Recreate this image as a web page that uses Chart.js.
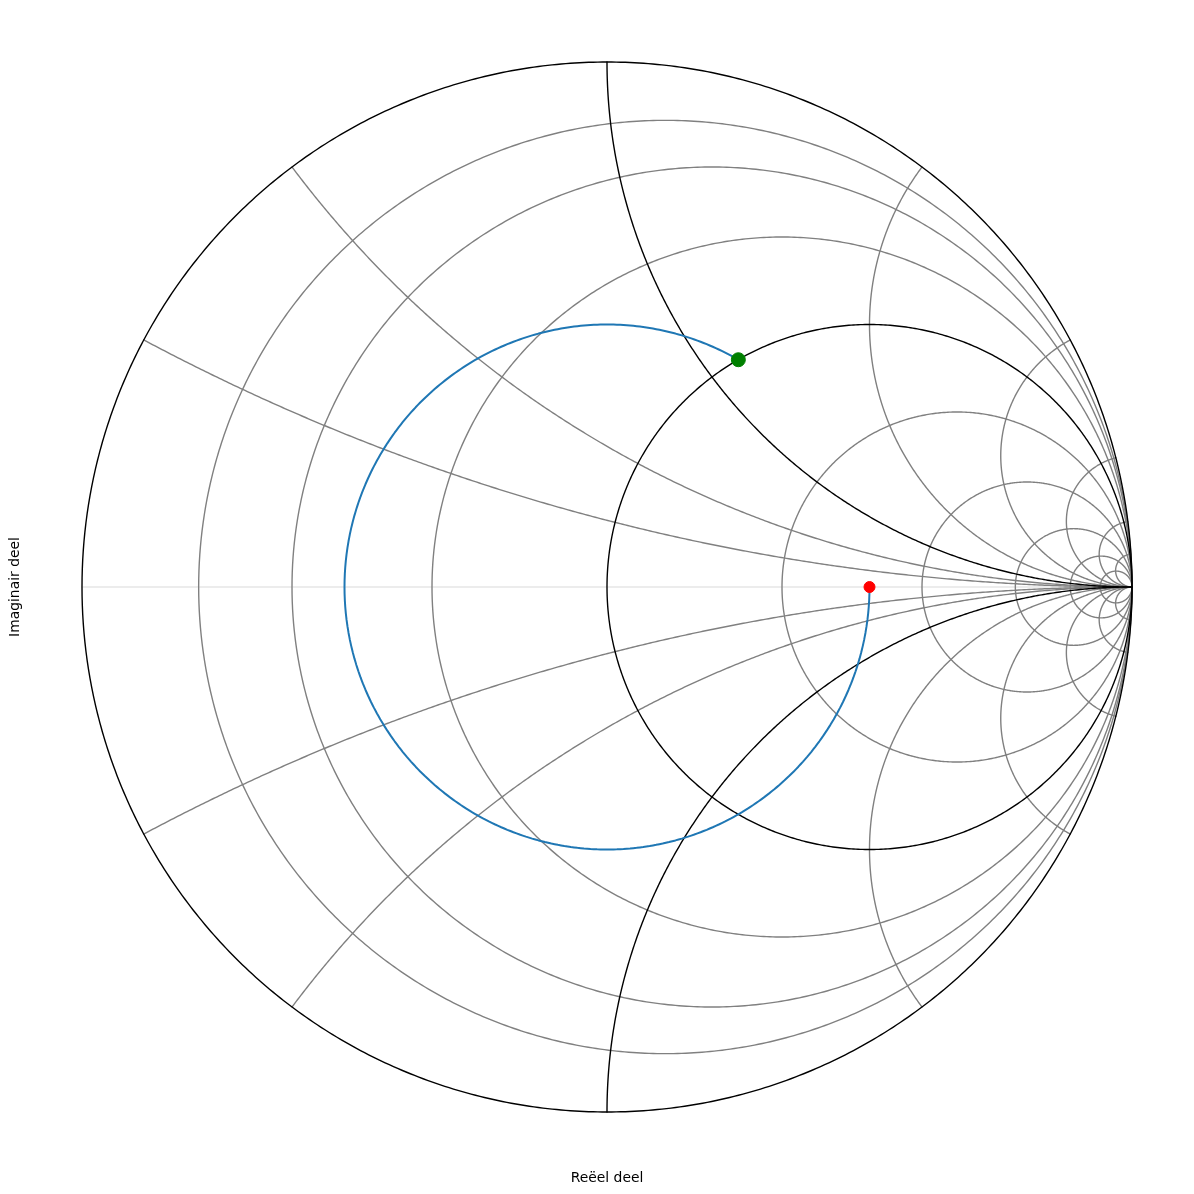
<!DOCTYPE html>
<html>
<head>
<meta charset="utf-8">
<script src="https://cdn.jsdelivr.net/npm/chart.js@4/dist/chart.umd.min.js"></script>
<style>
  html, body { margin: 0; padding: 0; background: #fff; }
  #wrap { width: 1194px; height: 1194px; }
</style>
</head>
<body>
<div id="wrap"><canvas id="smith" width="1194" height="1194"></canvas></div>
<script>
// rasterwaarden (genormaliseerd)
const rLight = [0.125, 0.25, 0.5, 2, 4, 8, 16, 32];
const xLight = [0.25, 0.5, 2, 4, 8, 16, 32, -0.25, -0.5, -2, -4, -8, -16, -32];
const rHeavy = [0, 1];
const xHeavy = [1, -1];

// belasting en lijnlengte
const zLoad = [3, 0];        // genormaliseerde belastingsimpedantie (re, im)
const lineLength = 0.4167;   // lengte van de lijn in golflengtes
const lengthStep = 0.002;

const axisTitles = ['Reëel deel', 'Imaginair deel'];

// z -> gamma
function gammaOf(re, im) {
    const d = (re + 1) * (re + 1) + im * im;
    return [(re * re + im * im - 1) / d, 2 * im / d];
}

function resistanceCircle(r) {
    const c = r / (1 + r), rad = 1 / (1 + r);
    const pts = [];
    for (let i = 0; i <= 360; i++) {
        const a = i * Math.PI / 180;
        pts.push({ x: c + rad * Math.cos(a), y: rad * Math.sin(a) });
    }
    return pts;
}

// boog van de reactantiecirkel binnen de eenheidscirkel
function reactanceArc(x) {
    const ax = Math.abs(x), s = Math.sign(x);
    const rad = 1 / ax;
    const edge = gammaOf(0, ax);
    const a0 = Math.atan2(edge[1] - rad, edge[0] - 1);
    const a0p = a0 < 0 ? a0 + 2 * Math.PI : a0;
    const a1 = 1.5 * Math.PI;
    const pts = [];
    const n = 200;
    for (let i = 0; i <= n; i++) {
        const a = a0p + (a1 - a0p) * i / n;
        pts.push({ x: 1 + rad * Math.cos(a), y: s * (rad + rad * Math.sin(a)) });
    }
    return pts;
}

// tension > 0 zodat chart.js geen "fast path" gebruikt (geeft rare tikjes bij verticale stukken)
function lineSet(data, color, width) {
    return { data: data, showLine: true, pointRadius: 0, borderColor: color,
             borderWidth: width, fill: false, clip: false, tension: 0.0001,
             borderCapStyle: 'round', borderJoinStyle: 'round' };
}

// spoor langs de lijn
const gL = gammaOf(zLoad[0], zLoad[1]);
function rotated(d) {
    const ph = -4 * Math.PI * d;
    return { x: gL[0] * Math.cos(ph) - gL[1] * Math.sin(ph),
             y: gL[0] * Math.sin(ph) + gL[1] * Math.cos(ph) };
}
const trace = [];
for (let d = 0; d < lineLength; d += lengthStep) trace.push(rotated(d));
trace.push(rotated(lineLength));
const endPoint = trace[trace.length - 1];

const datasets = [];
datasets.push({ data: [endPoint], pointRadius: 7, backgroundColor: '#008000', borderColor: '#008000', borderWidth: 1, clip: false });
datasets.push({ data: [{ x: gL[0], y: gL[1] }], pointRadius: 5.5, backgroundColor: '#ff0000', borderColor: '#ff0000', borderWidth: 1, clip: false });
datasets.push(lineSet(trace, '#1f77b4', 2));
rHeavy.forEach(r => datasets.push(lineSet(resistanceCircle(r), '#000000', 1.4)));
xHeavy.forEach(x => datasets.push(lineSet(reactanceArc(x), '#000000', 1.4)));
rLight.forEach(r => datasets.push(lineSet(resistanceCircle(r), '#808080', 1.4)));
xLight.forEach(x => datasets.push(lineSet(reactanceArc(x), '#808080', 1.4)));
datasets.push(lineSet([{ x: -1, y: 0 }, { x: 1, y: 0 }], '#e6e6e6', 1.5));

const titleFont = { family: 'DejaVu Sans', size: 13.9 };

new Chart(document.getElementById('smith').getContext('2d'), {
    type: 'scatter',
    data: { datasets: datasets },
    options: {
        responsive: false,
        animation: false,
        events: [],
        layout: { padding: { top: 62, right: 62, left: 0, bottom: 0 } },
        plugins: { legend: { display: false }, tooltip: { enabled: false } },
        scales: {
            x: {
                type: 'linear', min: -1, max: 1,
                grid: { display: false }, border: { display: false }, ticks: { display: false },
                title: { display: true, text: axisTitles[0], color: '#000', font: titleFont, padding: { top: 0, bottom: 7 } },
                afterFit: s => { s.height = 82; }
            },
            y: {
                type: 'linear', min: -1, max: 1,
                grid: { display: false }, border: { display: false }, ticks: { display: false },
                title: { display: true, text: axisTitles[1], color: '#000', font: titleFont, padding: { top: 7, bottom: 0 } },
                afterFit: s => { s.width = 82; }
            }
        }
    }
});
</script>
</body>
</html>
